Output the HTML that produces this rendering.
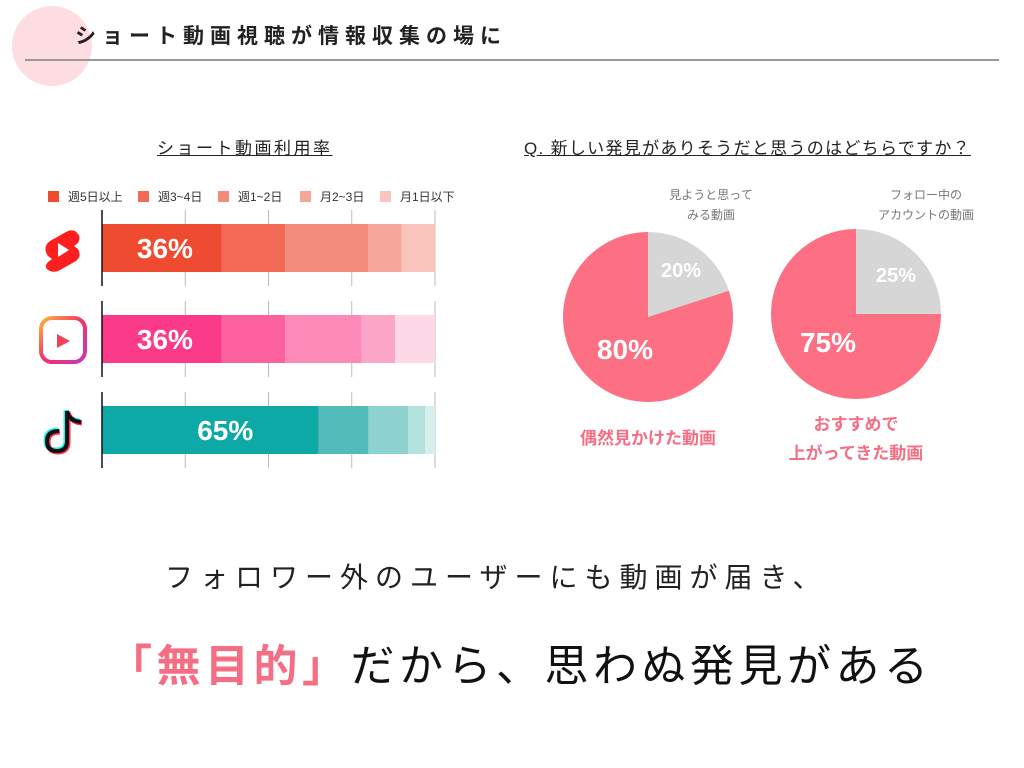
<!DOCTYPE html>
<html><head><meta charset="utf-8">
<style>
body{margin:0;background:#fff;}
#root{position:relative;width:1024px;height:768px;overflow:hidden;font-family:"Liberation Sans","Noto Sans CJK JP",sans-serif;color:#222;}
.abs{position:absolute;white-space:nowrap;}
</style></head>
<body>
<div id="root">
<div class="abs" style="left:12px;top:6px;width:80px;height:80px;border-radius:50%;background:#fddde2;"></div>
<div class="abs" style="left:75px;top:20px;font-size:21px;font-weight:bold;letter-spacing:6px;color:#222;">ショート動画視聴が情報収集の場に</div>
<div class="abs" style="left:25px;top:59px;width:974px;height:2px;background:#999;"></div>
<div class="abs" style="left:157px;top:134px;font-size:17px;text-decoration:underline;letter-spacing:2.5px;">ショート動画利用率</div>
<div class="abs" style="left:524px;top:134px;font-size:17px;text-decoration:underline;letter-spacing:1.3px;">Q. 新しい発見がありそうだと思うのはどちらですか？</div>
<svg id="chart" class="abs" style="left:0;top:0" width="1024" height="768"></svg>
<div class="abs" style="left:165px;top:556px;font-size:28px;letter-spacing:7px;color:#222;">フォロワー外のユーザーにも動画が届き、</div>
<div class="abs" style="left:108px;top:630px;font-size:44px;letter-spacing:4.5px;color:#111;"><span style="color:#f56f84;font-weight:bold;">「無目的」</span>だから、思わぬ発見がある</div>
</div>
<script>
const categories=["YouTube Shorts","Instagram Reels","TikTok"];
const legendLabels=["週5日以上","週3~4日","週1~2日","月2~3日","月1日以下"];
const ytValues=[36,19,25,10,10];
const igValues=[36,19,23,10,12];
const ttValues=[65,15,12,5,3];
const barLabels=["36%","36%","65%"];
const pieValues1=[20,80];
const pieValues2=[25,75];
const pieLabels1=["20%","80%"];
const pieLabels2=["25%","75%"];
const ns="http://www.w3.org/2000/svg";
const svg=document.getElementById('chart');
function mk(t,a,p){const e=document.createElementNS(ns,t);for(const k in a)e.setAttribute(k,a[k]);(p||svg).appendChild(e);return e;}
const x0=102,x1=435,xs=v=>x0+(x1-x0)*v/100;
const rowY=[224,315,406],bh=48;
const palettes=[["#ee4b30","#f26a55","#f48c7c","#f7a69a","#f9c5bc"],["#fc3a8a","#fd629f","#fd89b7","#fda7c8","#fdd9e8"],["#0ca9a6","#52bab8","#8dd2ce","#b4e2df","#d6efee"]];
const series=[ytValues,igValues,ttValues];
const legX=[48,138,218,300,380];
legendLabels.forEach((l,i)=>{
 const r=mk('rect',{x:legX[i],y:191,width:11,height:11,fill:palettes[0][i]});
 
 
 const t=mk('text',{x:legX[i]+20,y:201,'font-size':12,fill:'#333'});t.textContent=l;
 
 
});
series.forEach((vals,ri)=>{
 const y=rowY[ri];
 [25,50,75,100].forEach(g=>{const ln=mk('line',{x1:xs(g),x2:xs(g),y1:y-14,y2:y+bh+14,stroke:'#bbb','stroke-width':1});
  
  });
 let acc=0;
 vals.forEach((v,i)=>{
  const r=mk('rect',{x:xs(acc),y:y,width:xs(acc+v)-xs(acc),height:bh,fill:palettes[ri][i]});
  
  
  acc+=v;
 });
 const ax=mk('line',{x1:x0,x2:x0,y1:y-14,y2:y+bh+14,stroke:'#111','stroke-width':1.5});
 
 
 const t=mk('text',{x:(xs(0)+xs(vals[0]))/2+ (ri==2?15:3),y:y+bh/2+10,'font-size':28,'font-weight':'bold',fill:'#fff','text-anchor':'middle'});
 t.textContent=barLabels[ri];
 
 
});
const g1=mk('g',{});
mk('path',{d:'M66 232 L50 241 Q42 247 48 256 L52 259 L48 262 Q43 268 50 271 Q55 273 60 270 L76 261 Q82 256 78 249 L74 246 L78 243 Q82 236 75 231 Q71 229 66 232Z',fill:'#ff1f1f'},g1);
mk('path',{d:'M58 243 L69 250 L58 257Z',fill:'#fff'},g1);
const g2=mk('g',{});
mk('defs',{},g2).innerHTML='<linearGradient id="ig" x1="0" y1="0" x2="1" y2="1"><stop offset="0" stop-color="#fdb53a"/><stop offset="0.5" stop-color="#f5306a"/><stop offset="1" stop-color="#c13ab8"/></linearGradient>';
mk('rect',{x:41,y:318,width:44,height:44,rx:11,fill:'none',stroke:'url(#ig)','stroke-width':4},g2);
mk('line',{x1:41,y1:329,x2:85,y2:329,stroke:'url(#ig)','stroke-width':3},g2);
mk('path',{d:'M57 334 L70 341 L57 348Z',fill:'#f3405a'},g2);
const g3=mk('g',{});
mk('path',{d:'M66 410 L66 440 Q66 450 56 450 Q46 450 46 440 Q46 430 58 430',fill:'none',stroke:'#25f4ee','stroke-width':5},g3);
mk('path',{d:'M66 410 Q68 420 80 421',fill:'none',stroke:'#25f4ee','stroke-width':5},g3);
mk('path',{d:'M68 412 L68 442 Q68 452 58 452 Q48 452 48 442 Q48 432 60 432',fill:'none',stroke:'#fe2c55','stroke-width':5},g3);
mk('path',{d:'M68 412 Q70 422 82 423',fill:'none',stroke:'#fe2c55','stroke-width':5},g3);
mk('path',{d:'M67 411 L67 441 Q67 451 57 451 Q47 451 47 441 Q47 431 59 431',fill:'none',stroke:'#111','stroke-width':4},g3);
mk('path',{d:'M67 411 Q69 421 81 422',fill:'none',stroke:'#111','stroke-width':4},g3);
function pie(cx,cy,r,vals,labels,labelPos,name){
 const cols=['#d6d6d6','#fd6f83'];let a=0;const tot=vals.reduce((s,v)=>s+v,0);
 vals.forEach((v,i)=>{
  const a0=a/tot*2*Math.PI,a1=(a+v)/tot*2*Math.PI;a+=v;
  const p0=[cx+r*Math.sin(a0),cy-r*Math.cos(a0)],p1=[cx+r*Math.sin(a1),cy-r*Math.cos(a1)];
  const s=mk('path',{d:`M${cx} ${cy} L${p0[0]} ${p0[1]} A${r} ${r} 0 ${a1-a0>Math.PI?1:0} 1 ${p1[0]} ${p1[1]}Z`,fill:cols[i]});
  
  
  const t=mk('text',{x:cx+labelPos[i][0],y:cy+labelPos[i][1],'font-size':i?28:20,'font-weight':'bold',fill:'#fff','text-anchor':'middle'});
  t.textContent=labels[i];
  
  
 });
}
pie(648,317,85,pieValues1,pieLabels1,[[33,-40],[-23,42]],'pie-intentional');
pie(856,314,85,pieValues2,pieLabels2,[[40,-32],[-28,38]],'pie-recommended');
function txt(x,y,s,sz,col,bold,name){const t=mk('text',{x:x,y:y,'font-size':sz,fill:col,'text-anchor':'middle','font-weight':bold?'bold':'normal'});t.textContent=s;
 
 }
txt(711,199,'見ようと思って',12,'#777',0,'pie1-gray-caption');
txt(711,219,'みる動画',12,'#777',0,'pie1-gray-caption');
txt(926,199,'フォロー中の',12,'#777',0,'pie2-gray-caption');
txt(926,219,'アカウントの動画',12,'#777',0,'pie2-gray-caption');
txt(648,444,'偶然見かけた動画',17,'#f56f84',1,'pie1-pink-caption');
txt(856,430,'おすすめで',17,'#f56f84',1,'pie2-pink-caption');
txt(856,459,'上がってきた動画',17,'#f56f84',1,'pie2-pink-caption');
</script>
</body></html>
